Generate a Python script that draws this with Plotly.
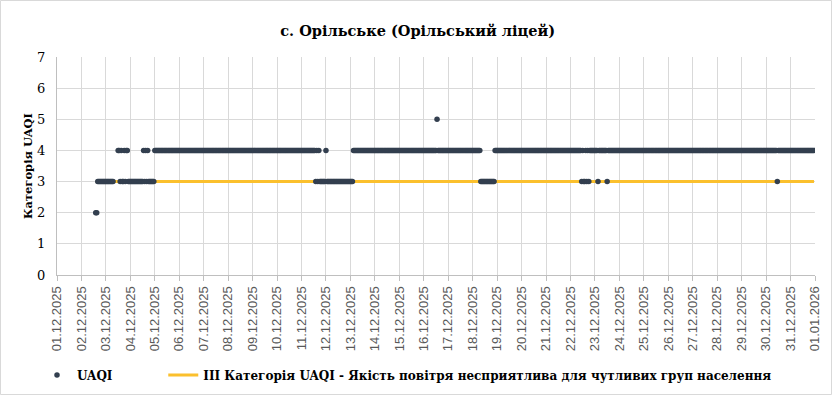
import plotly.graph_objects as go
from datetime import datetime, timedelta

TITLE = "с. Орільське (Орільський ліцей)"
Y_TITLE = "Категорія UAQI"
SERIES_NAME = "UAQI"
LINE_NAME = "III Категорія UAQI - Якість повітря несприятлива для чутливих груп населення"

DAY_LABELS = [
    "01.12.2025", "02.12.2025", "03.12.2025", "04.12.2025", "05.12.2025", "06.12.2025",
    "07.12.2025", "08.12.2025", "09.12.2025", "10.12.2025", "11.12.2025", "12.12.2025",
    "13.12.2025", "14.12.2025", "15.12.2025", "16.12.2025", "17.12.2025", "18.12.2025",
    "19.12.2025", "20.12.2025", "21.12.2025", "22.12.2025", "23.12.2025", "24.12.2025",
    "25.12.2025", "26.12.2025", "27.12.2025", "28.12.2025", "29.12.2025", "30.12.2025",
    "31.12.2025", "01.01.2026",
]

# Hourly UAQI category, one string of 24 hours per day ('.' = no data)
HOURLY_UAQI = [
    "........................",  # 01.12
    "..............2233333333",  # 02.12
    "33333333....443433434433",  # 03.12
    "333333333333343434333333",  # 04.12
    "444444444444444444444444",  # 05.12
    "444444444444444444444444",  # 06.12
    "444444444444444444444444",  # 07.12
    "444444444444444444444444",  # 08.12
    "444444444444444444444444",  # 09.12
    "444444444444444444444444",  # 10.12
    "444444444444443434333333",  # 11.12
    "433333333333333333333333",  # 12.12
    "333444444444444444444444",  # 13.12
    "444444444444444444444444",  # 14.12
    "444444444444444444444444",  # 15.12
    "444444444444454444444444",  # 16.12
    "444444444444444444444444",  # 17.12
    "444444443333333333333344",  # 18.12
    "444444444444444444444444",  # 19.12
    "444444444444444444444444",  # 20.12
    "444444444444444444444444",  # 21.12
    "444444444443433434344444",  # 22.12
    "444344444444344444444444",  # 23.12
    "444444444444444444444444",  # 24.12
    "444444444444444444444444",  # 25.12
    "444444444444444444444444",  # 26.12
    "444444444444444444444444",  # 27.12
    "444444444444444444444444",  # 28.12
    "444444444444444444444444",  # 29.12
    "444444444443444444444444",  # 30.12
    "444444444444444444444444",  # 31.12
]

THRESHOLD = 3
Y_TICKS = [0, 1, 2, 3, 4, 5, 6, 7]

# ---- build series ----
start = datetime.strptime(DAY_LABELS[0], "%d.%m.%Y")
xs, ys = [], []
for d, row in enumerate(HOURLY_UAQI):
    for h, ch in enumerate(row):
        if ch != ".":
            xs.append(start + timedelta(days=d, hours=h))
            ys.append(int(ch))

tick_dates = [datetime.strptime(s, "%d.%m.%Y") for s in DAY_LABELS]

SERIF = "DejaVu Serif"
SANS = "Liberation Sans"

fig = go.Figure()
fig.add_trace(go.Scatter(
    x=[xs[0], xs[-1]], y=[THRESHOLD, THRESHOLD], mode="lines",
    line=dict(color="#FBC02D", width=3), name="<b>" + LINE_NAME + "</b>", legendrank=2,
))
fig.add_trace(go.Scatter(
    x=xs, y=ys, mode="markers",
    marker=dict(color="#333F4F", size=5.5, line=dict(width=0)),
    name="<b>" + SERIES_NAME + "</b>" + "&nbsp;" * 12, legendrank=1,
))

W, H = 832, 395
L, R, T, B = 57, 17, 57, 120
pw, ph = W - L - R, H - T - B

fig.update_layout(
    width=W, height=H,
    margin=dict(l=L, r=R, t=T, b=B, autoexpand=False),
    paper_bgcolor="white", plot_bgcolor="white",
    font=dict(family=SERIF),
    title=dict(text="<b>" + TITLE + "</b>", x=0.502, xanchor="center", y=1 - 31 / H, yanchor="middle",
               automargin=False,
               font=dict(family=SERIF, size=14.5, color="#000000")),
    showlegend=True,
    legend=dict(orientation="h", xref="container", yref="container",
                x=37 / W, xanchor="left", y=1 - 375 / H, yanchor="middle",
                font=dict(family=SERIF, size=12, color="#000000"),
                itemwidth=30, tracegroupgap=0, bgcolor="rgba(0,0,0,0)"),
    xaxis=dict(
        type="date", automargin=False,
        range=[tick_dates[0], tick_dates[-1]],
        tickmode="array", tickvals=tick_dates, ticktext=DAY_LABELS,
        tickangle=-90, tickfont=dict(family=SANS, size=13, color="#595959"),
        showgrid=True, gridcolor="#D9D9D9", gridwidth=1,
        showline=True, linecolor="#BFBFBF", linewidth=1,
        ticks="outside", ticklen=5, tickcolor="#BFBFBF",
        zeroline=False, fixedrange=True,
    ),
    yaxis=dict(
        range=[0, 7], tickmode="array", tickvals=Y_TICKS, automargin=False,
        tickfont=dict(family=SERIF, size=13, color="#000000"),
        showgrid=True, gridcolor="#D9D9D9", gridwidth=1,
        showline=True, linecolor="#BFBFBF", linewidth=1,
        zeroline=False, ticks="", ticklabelstandoff=8,
        title=dict(text="<b>" + Y_TITLE + "</b>", standoff=2,
                   font=dict(family=SERIF, size=11.5, color="#000000")),
    ),
    shapes=[dict(
        type="rect", xref="paper", yref="paper",
        x0=(-L + 0.5) / pw, x1=(W - L - 0.5) / pw,
        y0=(-B + 0.5) / ph, y1=1 + (T - 0.5) / ph,
        line=dict(color="#D9D9D9", width=1), fillcolor="rgba(0,0,0,0)", layer="below",
    )],
)

fig.write_html("out.html", config={"displayModeBar": False},
               post_script="document.body.style.margin='0';document.body.style.padding='0';")
